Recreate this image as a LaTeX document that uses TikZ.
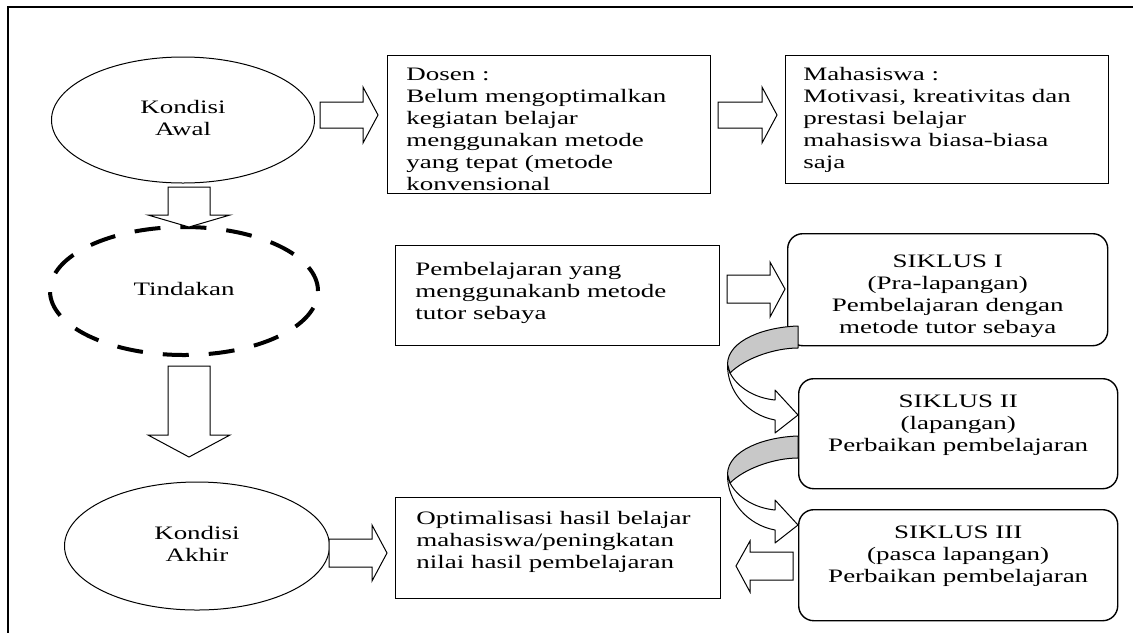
\documentclass[tikz,border=0pt]{standalone}
\usepackage{fontspec}
\usepackage{graphicx}
\setmainfont{Liberation Serif}
\usetikzlibrary{shapes.geometric}
\definecolor{band}{RGB}{200,200,200}
\newcommand\stx[2][l]{\scalebox{1.42}[1]{\begin{tabular}{@{}#1@{}}#2\end{tabular}}}
\begin{document}
\begin{tikzpicture}[x=0.5pt,y=-0.5pt,
  every node/.style={font=\fontsize{9.5}{11}\selectfont},
  ell/.style={draw, ellipse, line width=0.5pt, inner sep=0pt, align=center},
  box/.style={draw, rectangle, line width=0.7pt, inner sep=0pt, anchor=north west},
  rbox/.style={draw, rectangle, rounded corners=7.5pt, line width=0.7pt, inner sep=0pt, anchor=north west},
  txt/.style={inner sep=0pt, anchor=north west},
  ctxt/.style={inner sep=0pt, anchor=north},
  barrow/.style={draw, fill=white, line width=0.5pt, line join=miter},
  curv/.style={draw, line width=0.5pt, line join=round}
]
\useasboundingbox (0,0) rectangle (1133,633);
% frame
\draw[line width=1pt] (1133,7) -- (8,7) -- (8,633);

% ellipses
\node[ell, minimum width=131.5pt, minimum height=63pt] (awal) at (183,120) {\stx[c]{Kondisi\\Awal}};
\node[ell, dashed, line width=2pt, dash pattern=on 13pt off 10pt, minimum width=134pt, minimum height=64pt] (tind) at (184,291) {\stx[c]{Tindakan}};
\node[ell, minimum width=132.5pt, minimum height=64pt] (akhir) at (197,546) {\stx[c]{Kondisi\\Akhir}};

% rectangles
\node[box, minimum width=161.5pt, minimum height=69pt] (dosen) at (387,55) {};
\node[txt] at ([shift={(19,10)}]dosen.north west) {\stx{Dosen :\\Belum mengoptimalkan\\kegiatan belajar\\menggunakan metode\\yang tepat (metode\\konvensional}};

\node[box, minimum width=161.5pt, minimum height=64pt] (mhs) at (785,55) {};
\node[txt] at ([shift={(18,10)}]mhs.north west) {\stx{Mahasiswa :\\Motivasi, kreativitas dan\\prestasi belajar\\mahasiswa biasa-biasa\\saja}};

\node[box, minimum width=162pt, minimum height=50pt] (pemb) at (395,245) {};
\node[txt] at ([shift={(20,15)}]pemb.north west) {\stx{Pembelajaran yang\\menggunakanb metode\\tutor sebaya}};

\node[box, minimum width=162.5pt, minimum height=50.5pt] (opt) at (395,497) {};
\node[txt] at ([shift={(21,12)}]opt.north west) {\stx{Optimalisasi hasil belajar\\mahasiswa/peningkatan\\nilai hasil pembelajaran}};

% rounded boxes
\node[rbox, minimum width=160pt, minimum height=56pt] (s1) at (787,233) {};
\node[ctxt] at ([yshift=-9.5pt]s1.north) {\stx[c]{SIKLUS I\\(Pra-lapangan)\\Pembelajaran dengan\\metode tutor sebaya}};

\node[rbox, minimum width=159.5pt, minimum height=55pt] (s2) at (798,378) {};
\node[ctxt] at ([yshift=-7pt]s2.north) {\stx[c]{SIKLUS II\\(lapangan)\\Perbaikan pembelajaran}};

\node[rbox, minimum width=159.5pt, minimum height=55.5pt] (s3) at (798,509) {};
\node[ctxt] at ([yshift=-7pt]s3.north) {\stx[c]{SIKLUS III\\(pasca lapangan)\\Perbaikan pembelajaran}};

% block arrows
\draw[barrow] (320,102) -- (363,102) -- (363,87) -- (378,115) -- (363,143) -- (363,128) -- (320,128) -- cycle;
\draw[barrow] (718,102) -- (762,102) -- (762,87) -- (777,115) -- (762,143) -- (762,128) -- (718,128) -- cycle;
\draw[barrow] (727,275) -- (770,275) -- (770,262) -- (785,289) -- (770,317) -- (770,303) -- (727,303) -- cycle;
\draw[barrow] (329,539) -- (372,539) -- (372,525) -- (387,553) -- (372,581) -- (372,567) -- (329,567) -- cycle;
\draw[barrow] (793,552) -- (750,552) -- (750,541) -- (736,566) -- (750,592) -- (750,580) -- (793,580) -- cycle;
\draw[barrow] (168,187) -- (168,215) -- (148,215) -- (189,227) -- (230,215) -- (210,215) -- (210,187) -- cycle;
\draw[barrow] (168,366) -- (168,435) -- (148,435) -- (189,457) -- (230,435) -- (210,435) -- (210,366) -- cycle;

% curved arrows
\foreach \dy in {0,110} {
  \begin{scope}[shift={(0,\dy)}]
    \filldraw[curv, fill=white] (727.5,364) .. controls (727,392) and (748,415) .. (775,420) -- (775,433) -- (798,415) -- (775,390) -- (775,400) .. controls (755,398) and (738,388) .. (730,373) -- cycle;
    \filldraw[curv, fill=band] (798,326) .. controls (765,327) and (728,340) .. (727.5,364) -- (730,373) .. controls (745,358) and (775,348) .. (798,348) -- cycle;
  \end{scope}
}
\end{tikzpicture}
\end{document}
